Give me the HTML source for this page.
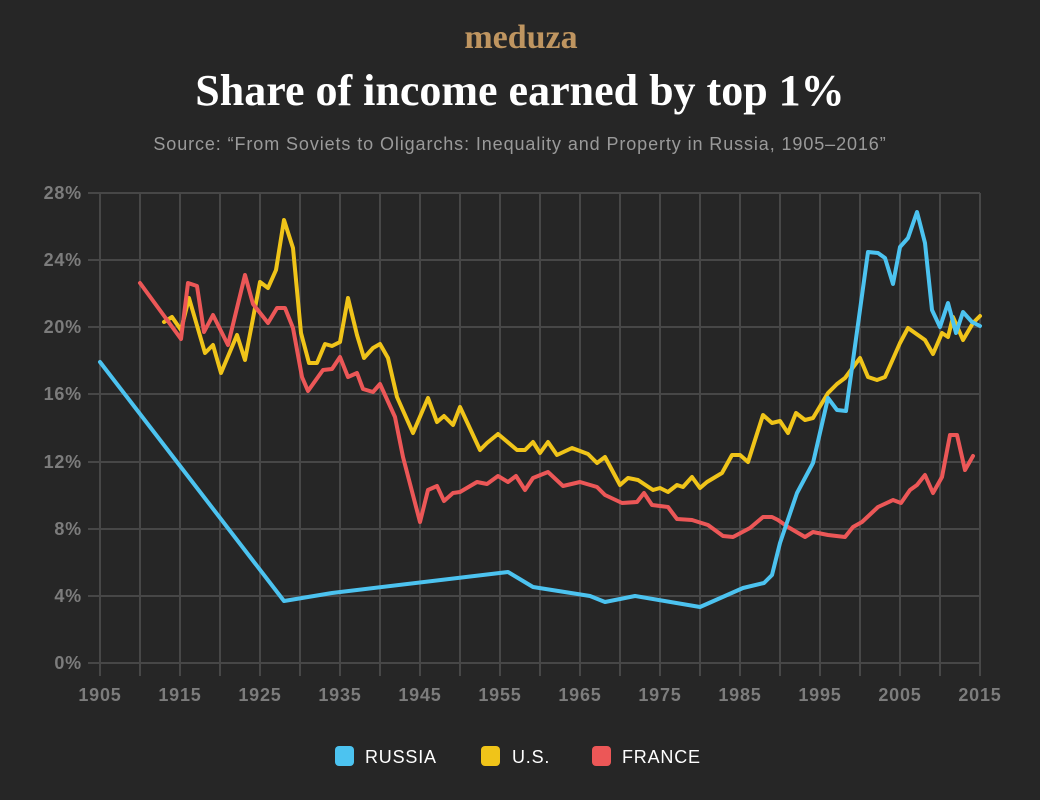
<!DOCTYPE html>
<html><head><meta charset="utf-8"><style>
body{margin:0;background:#262626;}
svg{display:block}
</style></head><body>
<svg width="1040" height="800" xmlns="http://www.w3.org/2000/svg">
<rect width="1040" height="800" fill="#262626"/>
<text x="521" y="48" text-anchor="middle" font-family="Liberation Serif, serif" font-weight="bold" font-size="34" fill="#bf9560">meduza</text>
<text x="520" y="105" text-anchor="middle" font-family="Liberation Serif, serif" font-weight="bold" font-size="44" fill="#ffffff">Share of income earned by top 1%</text>
<text x="520" y="150" text-anchor="middle" font-family="Liberation Sans, sans-serif" font-size="18" letter-spacing="0.9" fill="#9a9a9a">Source: “From Soviets to Oligarchs: Inequality and Property in Russia, 1905–2016”</text>
<g stroke="#474747" stroke-width="2">
<line x1="88" y1="193" x2="980" y2="193"/><line x1="88" y1="260" x2="980" y2="260"/><line x1="88" y1="327" x2="980" y2="327"/><line x1="88" y1="394" x2="980" y2="394"/><line x1="88" y1="462" x2="980" y2="462"/><line x1="88" y1="529" x2="980" y2="529"/><line x1="88" y1="596" x2="980" y2="596"/><line x1="88" y1="663" x2="980" y2="663"/>
<line x1="100" y1="193" x2="100" y2="676"/><line x1="140" y1="193" x2="140" y2="676"/><line x1="180" y1="193" x2="180" y2="676"/><line x1="220" y1="193" x2="220" y2="676"/><line x1="260" y1="193" x2="260" y2="676"/><line x1="300" y1="193" x2="300" y2="676"/><line x1="340" y1="193" x2="340" y2="676"/><line x1="380" y1="193" x2="380" y2="676"/><line x1="420" y1="193" x2="420" y2="676"/><line x1="460" y1="193" x2="460" y2="676"/><line x1="500" y1="193" x2="500" y2="676"/><line x1="540" y1="193" x2="540" y2="676"/><line x1="580" y1="193" x2="580" y2="676"/><line x1="620" y1="193" x2="620" y2="676"/><line x1="660" y1="193" x2="660" y2="676"/><line x1="700" y1="193" x2="700" y2="676"/><line x1="740" y1="193" x2="740" y2="676"/><line x1="780" y1="193" x2="780" y2="676"/><line x1="820" y1="193" x2="820" y2="676"/><line x1="860" y1="193" x2="860" y2="676"/><line x1="900" y1="193" x2="900" y2="676"/><line x1="940" y1="193" x2="940" y2="676"/><line x1="980" y1="193" x2="980" y2="676"/>
</g>
<g font-family="Liberation Sans, sans-serif" font-weight="bold" font-size="18" letter-spacing="0.8" fill="#7c7c7c" text-anchor="end">
<text x="82" y="199">28%</text><text x="82" y="266">24%</text><text x="82" y="333">20%</text><text x="82" y="400">16%</text><text x="82" y="468">12%</text><text x="82" y="535">8%</text><text x="82" y="602">4%</text><text x="82" y="669">0%</text>
</g>
<g font-family="Liberation Sans, sans-serif" font-weight="bold" font-size="18" letter-spacing="0.8" fill="#7c7c7c" text-anchor="middle">
<text x="100" y="701">1905</text><text x="180" y="701">1915</text><text x="260" y="701">1925</text><text x="340" y="701">1935</text><text x="420" y="701">1945</text><text x="500" y="701">1955</text><text x="580" y="701">1965</text><text x="660" y="701">1975</text><text x="740" y="701">1985</text><text x="820" y="701">1995</text><text x="900" y="701">2005</text><text x="980" y="701">2015</text>
</g>
<g fill="none" stroke-width="4" stroke-linejoin="round" stroke-linecap="round">
<polyline stroke="#f0c419" points="164,322 172,317 181,330 189,298 205,353 213,345 221,373 237,335 245,360 260,282 268,288 276,270 284,220 293,248 301,333 309,363 317,363 325,344 332,346 340,342 348,298 357,335 364,358 373,348 380,344 388,358 397,397 413,433 428,398 437,422 444,416 453,425 460,407 480,450 487,443 498,434 517,450 525,450 533,442 540,453 548,442 557,455 572,448 588,454 597,463 605,457 620,485 628,478 638,480 653,490 660,488 668,492 677,485 683,487 692,477 700,488 707,482 722,473 732,455 740,455 748,462 755,440 763,415 772,423 780,421 788,433 796,413 805,420 813,418 828,393 837,384 845,378 860,358 868,377 877,380 885,377 900,343 908,328 925,340 933,354 942,333 948,337 953,317 963,340 973,323 980,316"/>
<polyline stroke="#ec5757" points="140,283 181,339 188,283 197,286 204,332 213,315 228,345 245,275 253,304 268,323 277,308 285,308 293,328 302,377 308,391 323,370 332,369 340,357 348,377 357,373 363,389 373,392 380,384 395,417 403,457 420,522 428,490 437,486 444,501 453,493 460,492 477,482 487,484 498,476 508,482 516,476 525,490 533,478 548,472 563,486 580,482 597,487 605,495 622,503 637,502 644,493 652,505 668,507 677,519 692,520 708,525 723,536 733,537 750,528 763,517 772,517 778,520 788,527 805,537 813,532 828,535 845,537 853,527 862,522 878,507 893,500 901,503 910,490 917,485 925,475 933,493 942,477 950,435 957,435 965,470 973,456"/>
<polyline stroke="#4cc3f0" points="100,362 284,601 332,593 508,572 533,587 590,596 605,602 635,596 700,607 743,588 764,583 772,575 780,543 797,493 813,463 828,398 837,410 846,411 868,252 878,253 885,258 893,284 900,247 908,238 917,212 925,243 932,310 940,327 948,303 956,333 963,312 972,322 980,326"/>
</g>
<rect x="335" y="746" width="19" height="20" rx="4" fill="#4cc3f0"/>
<rect x="481" y="746" width="19" height="20" rx="4" fill="#f0c419"/>
<rect x="592" y="746" width="19" height="20" rx="4" fill="#ec5757"/>
<g font-family="Liberation Sans, sans-serif" font-size="18" letter-spacing="0.8" fill="#ffffff">
<text x="365" y="763">RUSSIA</text><text x="512" y="763">U.S.</text><text x="622" y="763">FRANCE</text>
</g>
</svg>
</body></html>
